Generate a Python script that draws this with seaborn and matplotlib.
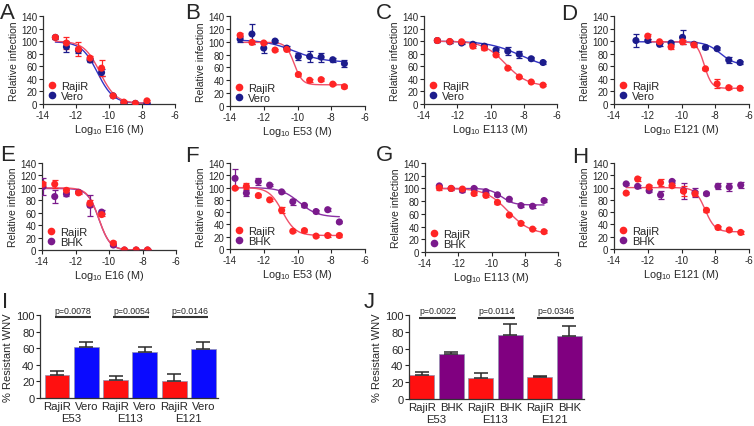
import numpy as np
import pandas as pd
import seaborn as sns
import matplotlib.pyplot as plt
import matplotlib.transforms as mtransforms
from matplotlib.lines import Line2D

# ---- dose-response data: log10 dose (M), relative infection (%), SEM ----
# fits are 4-parameter logistic: (top, bottom, logEC50, hill slope)
a_x = [-13.25, -12.58, -11.85, -11.15, -10.45, -9.75, -9.1, -8.4, -7.7]
a_rajir = [106, 97, 87, 73, 57, 13, 3, 1, 5]
a_rajir_err = [2, 10, 11, 4, 13, 2, 2, 1, 2]
a_vero = [106, 91, 85, 70, 50, 13, 2, 1, 1]
a_vero_err = [2, 9, 4, 3, 6, 2, 1, 1, 1]
a_fit_rajir = (100, 1, -10.55, 0.9)
a_fit_vero = (99, 1, -10.7, 0.9)

b_x = [-13.4, -12.7, -12.0, -11.33, -10.64, -9.95, -9.28, -8.6, -7.91, -7.22]
b_rajir = [110, 99, 98, 87, 88, 49, 40, 41, 34, 30]
b_rajir_err = [3, 2, 2, 2, 2, 2, 2, 2, 2, 2]
b_vero = [104, 112, 90, 101, 90, 77, 77, 76, 72, 66]
b_vero_err = [5, 15, 8, 2, 3, 6, 8, 7, 3, 6]
b_fit_rajir = (99, 33, -10.2, 1.8)
b_fit_vero = (103, 68, -10.2, 0.5)

c_x = [-13.2, -12.45, -11.74, -11.06, -10.37, -9.67, -8.96, -8.27, -7.55, -6.84]
c_rajir = [101, 99.5, 99, 92, 89, 78, 57, 43, 35, 30]
c_rajir_err = [2, 2, 2, 3, 3, 2, 2, 2, 2, 2]
c_vero = [101, 99, 97, 95, 92, 86, 84, 79, 72, 66]
c_vero_err = [2, 2, 2, 3, 4, 3, 6, 6, 2, 2]
c_fit_rajir = (100, 28, -9.1, 0.65)
c_fit_vero = (100, 55, -8.2, 0.45)

d_x_rajir = [-12.0, -11.3, -10.62, -9.94, -9.26, -8.58, -7.89, -7.2, -6.53]
d_rajir = [108, 99, 91, 99, 94, 56, 32, 26, 25]
d_rajir_err = [4, 2, 3, 3, 4, 2, 7, 2, 2]
d_x_vero = [-12.7, -12.0, -11.3, -10.62, -9.94, -9.26, -8.58, -7.89, -7.2, -6.53]
d_vero = [101, 101, 95, 97, 106, 95, 90, 88, 70, 66]
d_vero_err = [10, 3, 2, 2, 11, 3, 2, 2, 4, 2]
d_fit_rajir = (99, 25, -8.65, 2.0)
d_fit_vero = (99, 62, -7.7, 1.0)

e_x = [-13.94, -13.24, -12.54, -11.82, -11.14, -10.44, -9.74, -9.08, -8.38, -7.7]
e_rajir = [106, 106, 96, 92, 75, 57, 11, 0, 0, 0]
e_rajir_err = [4, 6, 3, 2, 6, 3, 3, 1, 1, 1]
e_bhk = [102, 86, 90, 93, 72, 61, 8, 0, 0, 0]
e_bhk_err = [14, 10, 3, 2, 17, 3, 2, 1, 1, 1]
e_fit_rajir = (100, 0, -10.6, 1.3)
e_fit_bhk = (99, 0, -10.6, 1.3)

f_x = [-13.7, -13.03, -12.32, -11.65, -10.94, -10.28, -9.59, -8.9, -8.21, -7.52]
f_rajir = [99, 102, 87, 80, 63, 29, 30, 21, 22, 22]
f_rajir_err = [2, 5, 2, 2, 5, 2, 2, 2, 2, 2]
f_bhk = [115, 91, 110, 104, 93, 77, 71, 61, 64, 44]
f_bhk_err = [15, 5, 6, 2, 2, 5, 2, 2, 2, 2]
f_fit_rajir = (100, 22, -10.9, 1.1)
f_fit_bhk = (100, 52, -9.9, 0.8)

g_x = [-13.14, -12.43, -11.75, -11.05, -10.34, -9.64, -8.93, -8.23, -7.53, -6.84]
g_rajir = [101, 100, 99, 92, 89, 78, 58, 45, 36, 32]
g_rajir_err = [3, 2, 2, 3, 3, 2, 2, 2, 2, 2]
g_bhk = [104, 100, 97, 100, 95, 90, 83, 73, 72, 81]
g_bhk_err = [2, 2, 3, 2, 2, 2, 2, 2, 2, 2]
g_fit_rajir = (100, 28, -9.0, 0.65)
g_fit_bhk = (100, 74, -9.4, 1.2)

h_x = [-13.28, -12.6, -11.92, -11.24, -10.56, -9.88, -9.2, -8.52, -7.84, -7.17, -6.49]
h_rajir = [91, 114, 101, 108, 103, 94, 90, 63, 35, 31, 27]
h_rajir_err = [2, 3, 3, 6, 2, 8, 4, 2, 2, 2, 2]
h_bhk = [106, 102, 95, 88, 110, 95, 92, 90, 102, 101, 104]
h_bhk_err = [2, 2, 2, 6, 3, 13, 8, 2, 5, 6, 5]
h_fit_rajir = (100, 28, -8.6, 1.5)
h_fit_bhk = None

# ---- % resistant WNV bars ----
bar_groups = ["E53", "E113", "E121"]
i_rajir = [28, 22, 21]
i_rajir_err = [5, 4, 8]
i_vero = [61, 56, 58.5]
i_vero_err = [7, 5, 8.5]
i_pvals = ["p=0.0078", "p=0.0054", "p=0.0146"]
j_rajir = [29, 25, 26]
j_rajir_err = [3, 6, 1]
j_bhk = [53, 76, 75]
j_bhk_err = [3, 13, 12]
j_pvals = ["p=0.0022", "p=0.0114", "p=0.0346"]

RED = "#ff2525"
RED_LINE = "#f0506a"
NAVY = "#1c1c8c"
NAVY_LINE = "#3434c4"
PURPLE = "#7a1a8c"
PURPLE_LINE = "#8a30a4"
RED_BAR = "#ff1010"
BLUE_BAR = "#0a0aff"
PURPLE_BAR = "#800080"

sns.set_style("ticks")
plt.rcParams["font.family"] = ["Liberation Sans", "DejaVu Sans"]
plt.rcParams["axes.unicode_minus"] = False
plt.rcParams["axes.linewidth"] = 0.9
plt.rcParams["axes.edgecolor"] = "#333333"
plt.rcParams["xtick.major.size"] = 3
plt.rcParams["ytick.major.size"] = 3
plt.rcParams["xtick.major.width"] = 0.8
plt.rcParams["ytick.major.width"] = 0.8
plt.rcParams["xtick.major.pad"] = 1.5
plt.rcParams["ytick.major.pad"] = 1.0

W, H = 754, 427
fig = plt.figure(figsize=(W / 100, H / 100), dpi=100)


def px_axes(l, t, r, b):
    return fig.add_axes([l / W, 1 - b / H, (r - l) / W, (b - t) / H])


def logistic(x, top, bottom, mid, slope):
    return bottom + (top - bottom) / (1 + 10 ** (slope * (x - mid)))


def dose_panel(ax, compound, cell, cell_color, series):
    # series: list of (x, y, err, fit, marker colour, line colour)
    for x, y, err, fit, mc, lc in series:
        if fit is not None:
            xs = np.linspace(min(x), max(x), 200)
            sns.lineplot(x=xs, y=logistic(xs, *fit), ax=ax, color=lc, lw=1.0, zorder=2)
        ax.errorbar(x, y, yerr=err, fmt="none", ecolor=mc, elinewidth=0.9,
                    capsize=2.5, capthick=0.9, zorder=3)
        sns.scatterplot(x=x, y=y, ax=ax, color=mc, s=26, edgecolor="none",
                        zorder=4, legend=False)
    ax.set_xlim(-14, -6)
    ax.set_ylim(0, 140)
    ax.set_xticks(range(-14, -5, 2))
    ax.set_yticks(range(0, 141, 20))
    ax.tick_params(labelsize=7)
    ax.set_xlabel(f"Log$_{{\\mathregular{{10}}}}$ {compound} (M)", fontsize=7.8, labelpad=1)
    ax.set_ylabel("Relative infection", fontsize=7.5, labelpad=1.5)
    handles = [Line2D([], [], ls="none", marker="o", ms=5.5, color=RED, mec="none"),
               Line2D([], [], ls="none", marker="o", ms=5.5, color=cell_color, mec="none")]
    ax.legend(handles, ["RajiR", cell], loc="lower left", frameon=False, fontsize=8,
              handlelength=1.0, handletextpad=0.3, labelspacing=0.0,
              borderaxespad=0.1, borderpad=0.2)
    sns.despine(ax=ax)


def bar_panel(ax, rajir, rajir_err, other, other_err, other_name, other_color, pvals, xlim):
    rows = []
    for g, r, re_, o, oe in zip(bar_groups, rajir, rajir_err, other, other_err):
        rows.append({"bar": f"RajiR {g}", "cell": "RajiR", "value": r, "err": re_})
        rows.append({"bar": f"{other_name} {g}", "cell": other_name, "value": o, "err": oe})
    df = pd.DataFrame(rows)
    sns.barplot(data=df, x="bar", y="value", hue="cell",
                palette={"RajiR": RED_BAR, other_name: other_color},
                dodge=False, width=0.85, saturation=1, legend=False, errorbar=None,
                edgecolor="#9090b0", linewidth=0.5, ax=ax)
    pos = np.arange(len(df))
    ax.errorbar(pos, df["value"], yerr=[np.zeros(len(df)), df["err"]], fmt="none",
                ecolor="#2a2a2a", elinewidth=1.1, capsize=5, capthick=1.1, zorder=3)
    for k, p in enumerate(pvals):
        c0 = 2 * k
        ax.plot([c0 - 0.08, c0 + 1.15], [97, 97], color="#333333", lw=1.5,
                clip_on=False, solid_capstyle="butt")
        ax.text(c0 + 0.55, 100.5, p, ha="center", va="bottom", fontsize=6.3,
                clip_on=False)
    ax.set_xlim(*xlim)
    ax.set_ylim(0, 100)
    ax.set_yticks(range(0, 101, 20))
    ax.set_xticks(pos)
    ax.set_xticklabels(df["cell"])
    ax.tick_params(axis="x", length=0, pad=2.5, labelsize=8.2)
    ax.tick_params(axis="y", labelsize=8)
    # group names sit 20 px below the x axis
    trans = mtransforms.offset_copy(
        mtransforms.blended_transform_factory(ax.transData, ax.transAxes),
        fig=fig, y=-20, units="dots")
    for k, g in enumerate(bar_groups):
        ax.text(2 * k + 0.5, 0, g, transform=trans, ha="center", va="center",
                fontsize=8.2)
    ax.set_xlabel("")
    ax.set_ylabel("% Resistant WNV", fontsize=8, labelpad=2)
    sns.despine(ax=ax)


panels = [
    ((43, 17, 175, 105), "E16", "Vero", NAVY,
     [(a_x, a_vero, a_vero_err, a_fit_vero, NAVY, NAVY_LINE),
      (a_x, a_rajir, a_rajir_err, a_fit_rajir, RED, RED_LINE)]),
    ((230, 17, 365, 107), "E53", "Vero", NAVY,
     [(b_x, b_vero, b_vero_err, b_fit_vero, NAVY, NAVY_LINE),
      (b_x, b_rajir, b_rajir_err, b_fit_rajir, RED, RED_LINE)]),
    ((424, 17, 557, 105), "E113", "Vero", NAVY,
     [(c_x, c_vero, c_vero_err, c_fit_vero, NAVY, NAVY_LINE),
      (c_x, c_rajir, c_rajir_err, c_fit_rajir, RED, RED_LINE)]),
    ((614, 17, 749, 105), "E121", "Vero", NAVY,
     [(d_x_vero, d_vero, d_vero_err, d_fit_vero, NAVY, NAVY_LINE),
      (d_x_rajir, d_rajir, d_rajir_err, d_fit_rajir, RED, RED_LINE)]),
    ((42, 164, 176, 251), "E16", "BHK", PURPLE,
     [(e_x, e_bhk, e_bhk_err, e_fit_bhk, PURPLE, PURPLE_LINE),
      (e_x, e_rajir, e_rajir_err, e_fit_rajir, RED, RED_LINE)]),
    ((230, 164, 365, 250), "E53", "BHK", PURPLE,
     [(f_x, f_bhk, f_bhk_err, f_fit_bhk, PURPLE, PURPLE_LINE),
      (f_x, f_rajir, f_rajir_err, f_fit_rajir, RED, RED_LINE)]),
    ((425, 164, 558, 253), "E113", "BHK", PURPLE,
     [(g_x, g_bhk, g_bhk_err, g_fit_bhk, PURPLE, PURPLE_LINE),
      (g_x, g_rajir, g_rajir_err, g_fit_rajir, RED, RED_LINE)]),
    ((614, 164, 749, 250), "E121", "BHK", PURPLE,
     [(h_x, h_bhk, h_bhk_err, h_fit_bhk, PURPLE, PURPLE_LINE),
      (h_x, h_rajir, h_rajir_err, h_fit_rajir, RED, RED_LINE)]),
]

for rect, compound, cell, cc, series in panels:
    ax = px_axes(*rect)
    dose_panel(ax, compound, cell, cc, series)

ax_i = px_axes(40, 316, 218, 399)
bar_panel(ax_i, i_rajir, i_rajir_err, i_vero, i_vero_err, "Vero", BLUE_BAR, i_pvals, (-0.58, 5.5))
ax_j = px_axes(409, 316, 584, 400)
bar_panel(ax_j, j_rajir, j_rajir_err, j_bhk, j_bhk_err, "BHK", PURPLE_BAR, j_pvals, (-0.43, 5.5))

letters = [("A", 0, 3), ("B", 185, 3), ("C", 376, 3), ("D", 561, 4),
           ("E", 0, 145), ("F", 185, 146), ("G", 376, 145), ("H", 572, 147),
           ("I", 2, 292), ("J", 364, 292)]
for lab, x, y in letters:
    fig.text(x / W, 1 - y / H, lab, fontsize=16, ha="left", va="top")

fig.savefig("out.png", dpi=100)
